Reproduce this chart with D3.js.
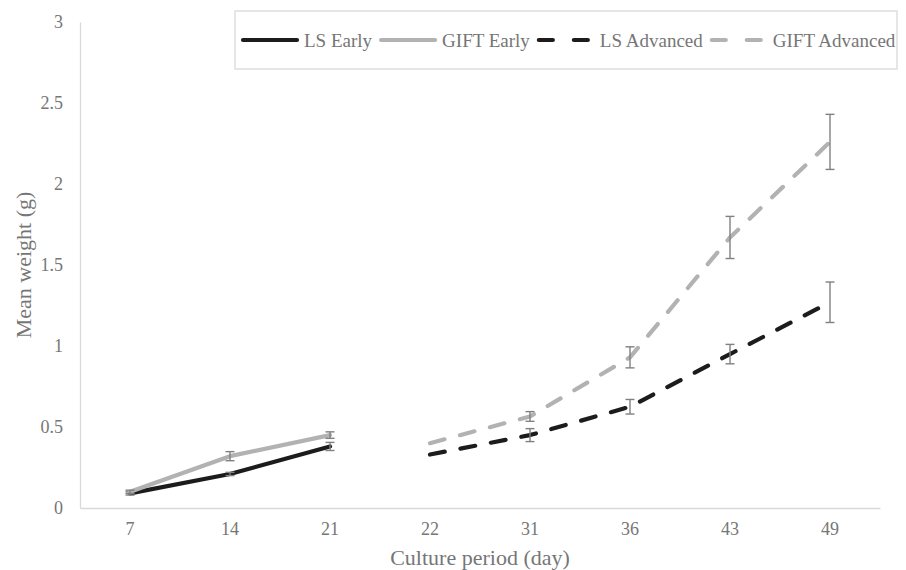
<!DOCTYPE html>
<html>
<head>
<meta charset="utf-8">
<script src="https://cdn.jsdelivr.net/npm/d3@7"></script>
<style>
  body { margin: 0; background: #fff; }
  svg text { font-family: "Liberation Serif", "Times New Roman", serif !important; fill: #767676; }
</style>
</head>
<body>
<div id="chart"></div>
<script>
// categorias del eje x (dias de cultivo)
var days = ["7", "14", "21", "22", "31", "36", "43", "49"];
var yTicks = [0, 0.5, 1, 1.5, 2, 2.5, 3];

// fase temprana
var earlyDays = ["7", "14", "21"];
var lsEarly = [0.09, 0.21, 0.38];
var lsEarlyErr = [0.01, 0.01, 0.025];
var giftEarly = [0.10, 0.32, 0.45];
var giftEarlyErr = [0.01, 0.028, 0.02];

// fase avanzada
var advDays = ["22", "31", "36", "43", "49"];
var lsAdv = [0.33, 0.45, 0.625, 0.95, 1.27];
var lsAdvErr = [0, 0.04, 0.045, 0.06, 0.125];
var giftAdv = [0.40, 0.565, 0.93, 1.67, 2.26];
var giftAdvErr = [0, 0.03, 0.065, 0.13, 0.17];

var BLACK = "#1c1c1c", GRAY = "#b2b2b2", DASH = "15,16";

var series = [
  {name: "LS Early", days: earlyDays, values: lsEarly, err: lsEarlyErr, color: BLACK, dash: null},
  {name: "GIFT Early", days: earlyDays, values: giftEarly, err: giftEarlyErr, color: GRAY, dash: null},
  {name: "LS Advanced", days: advDays, values: lsAdv, err: lsAdvErr, color: BLACK, dash: DASH},
  {name: "GIFT Advanced", days: advDays, values: giftAdv, err: giftAdvErr, color: GRAY, dash: DASH}
];

var W = 906, H = 570;
var margin = {top: 22, right: 26, bottom: 62, left: 80};

var svg = d3.select("#chart").append("svg")
  .attr("width", W).attr("height", H);

var x = d3.scaleBand().domain(days).range([margin.left, W - margin.right]);
var y = d3.scaleLinear().domain([0, 3]).range([H - margin.bottom, margin.top]);
var cx = function(d) { return x(d) + x.bandwidth() / 2; };

// ejes
var xAxis = svg.append("g")
  .attr("transform", "translate(0," + y(0) + ")")
  .call(d3.axisBottom(x).tickSize(0).tickPadding(14));
xAxis.attr("font-family", null).attr("font-size", null);
xAxis.select(".domain").attr("stroke", "#d9d9d9").attr("stroke-width", 1.3);
xAxis.selectAll("text").style("font-size", "18px");

var yAxis = svg.append("g")
  .attr("transform", "translate(" + margin.left + ",0)")
  .call(d3.axisLeft(y).tickValues(yTicks).tickSize(0).tickPadding(17).tickFormat(d3.format("")));
yAxis.attr("font-family", null).attr("font-size", null);
yAxis.select(".domain").attr("stroke", "#d9d9d9").attr("stroke-width", 1.3);
yAxis.selectAll("text").style("font-size", "18px");

// titulos de los ejes
svg.append("text")
  .attr("x", (margin.left + W - margin.right) / 2)
  .attr("y", 565)
  .attr("text-anchor", "middle")
  .style("font-size", "22px")
  .text("Culture period (day)");

svg.append("text")
  .attr("transform", "translate(31," + ((y(0) + y(3)) / 2) + ") rotate(-90)")
  .attr("text-anchor", "middle")
  .style("font-size", "22px")
  .text("Mean weight (g)");

// lineas
var line = d3.line()
  .x(function(d) { return cx(d.day); })
  .y(function(d) { return y(d.v); });

series.forEach(function(s) {
  var pts = s.days.map(function(d, i) { return {day: d, v: s.values[i], e: s.err[i]}; });

  svg.append("path")
    .datum(pts)
    .attr("fill", "none")
    .attr("stroke", s.color)
    .attr("stroke-width", 4.2)
    .attr("stroke-linecap", "round")
    .attr("stroke-linejoin", "round")
    .attr("stroke-dasharray", s.dash)
    .attr("d", line);

  // barras de error
  var eb = svg.append("g").attr("stroke", "#808080").attr("stroke-width", 1.4);
  pts.filter(function(p) { return p.e > 0; }).forEach(function(p) {
    var px = cx(p.day);
    eb.append("line").attr("x1", px).attr("x2", px).attr("y1", y(p.v - p.e)).attr("y2", y(p.v + p.e));
    eb.append("line").attr("x1", px - 4.5).attr("x2", px + 4.5).attr("y1", y(p.v - p.e)).attr("y2", y(p.v - p.e));
    eb.append("line").attr("x1", px - 4.5).attr("x2", px + 4.5).attr("y1", y(p.v + p.e)).attr("y2", y(p.v + p.e));
  });
});

// leyenda
var legend = svg.append("g");
legend.append("rect")
  .attr("x", 235).attr("y", 11).attr("width", 662).attr("height", 58)
  .attr("fill", "#fff").attr("stroke", "#d9d9d9").attr("stroke-width", 1.3);

var lx = 243, ly = 40;
series.forEach(function(s) {
  legend.append("line")
    .attr("x1", lx).attr("x2", lx + 54).attr("y1", ly).attr("y2", ly)
    .attr("stroke", s.color).attr("stroke-width", 4.2)
    .attr("stroke-linecap", "round")
    .attr("stroke-dasharray", s.dash ? "14,21" : null);
  var t = legend.append("text")
    .attr("x", lx + 61).attr("y", ly)
    .attr("dy", "0.35em")
    .style("font-size", "19px")
    .text(s.name);
  lx = lx + 61 + t.node().getComputedTextLength() + 9;
});
</script>
</body>
</html>
